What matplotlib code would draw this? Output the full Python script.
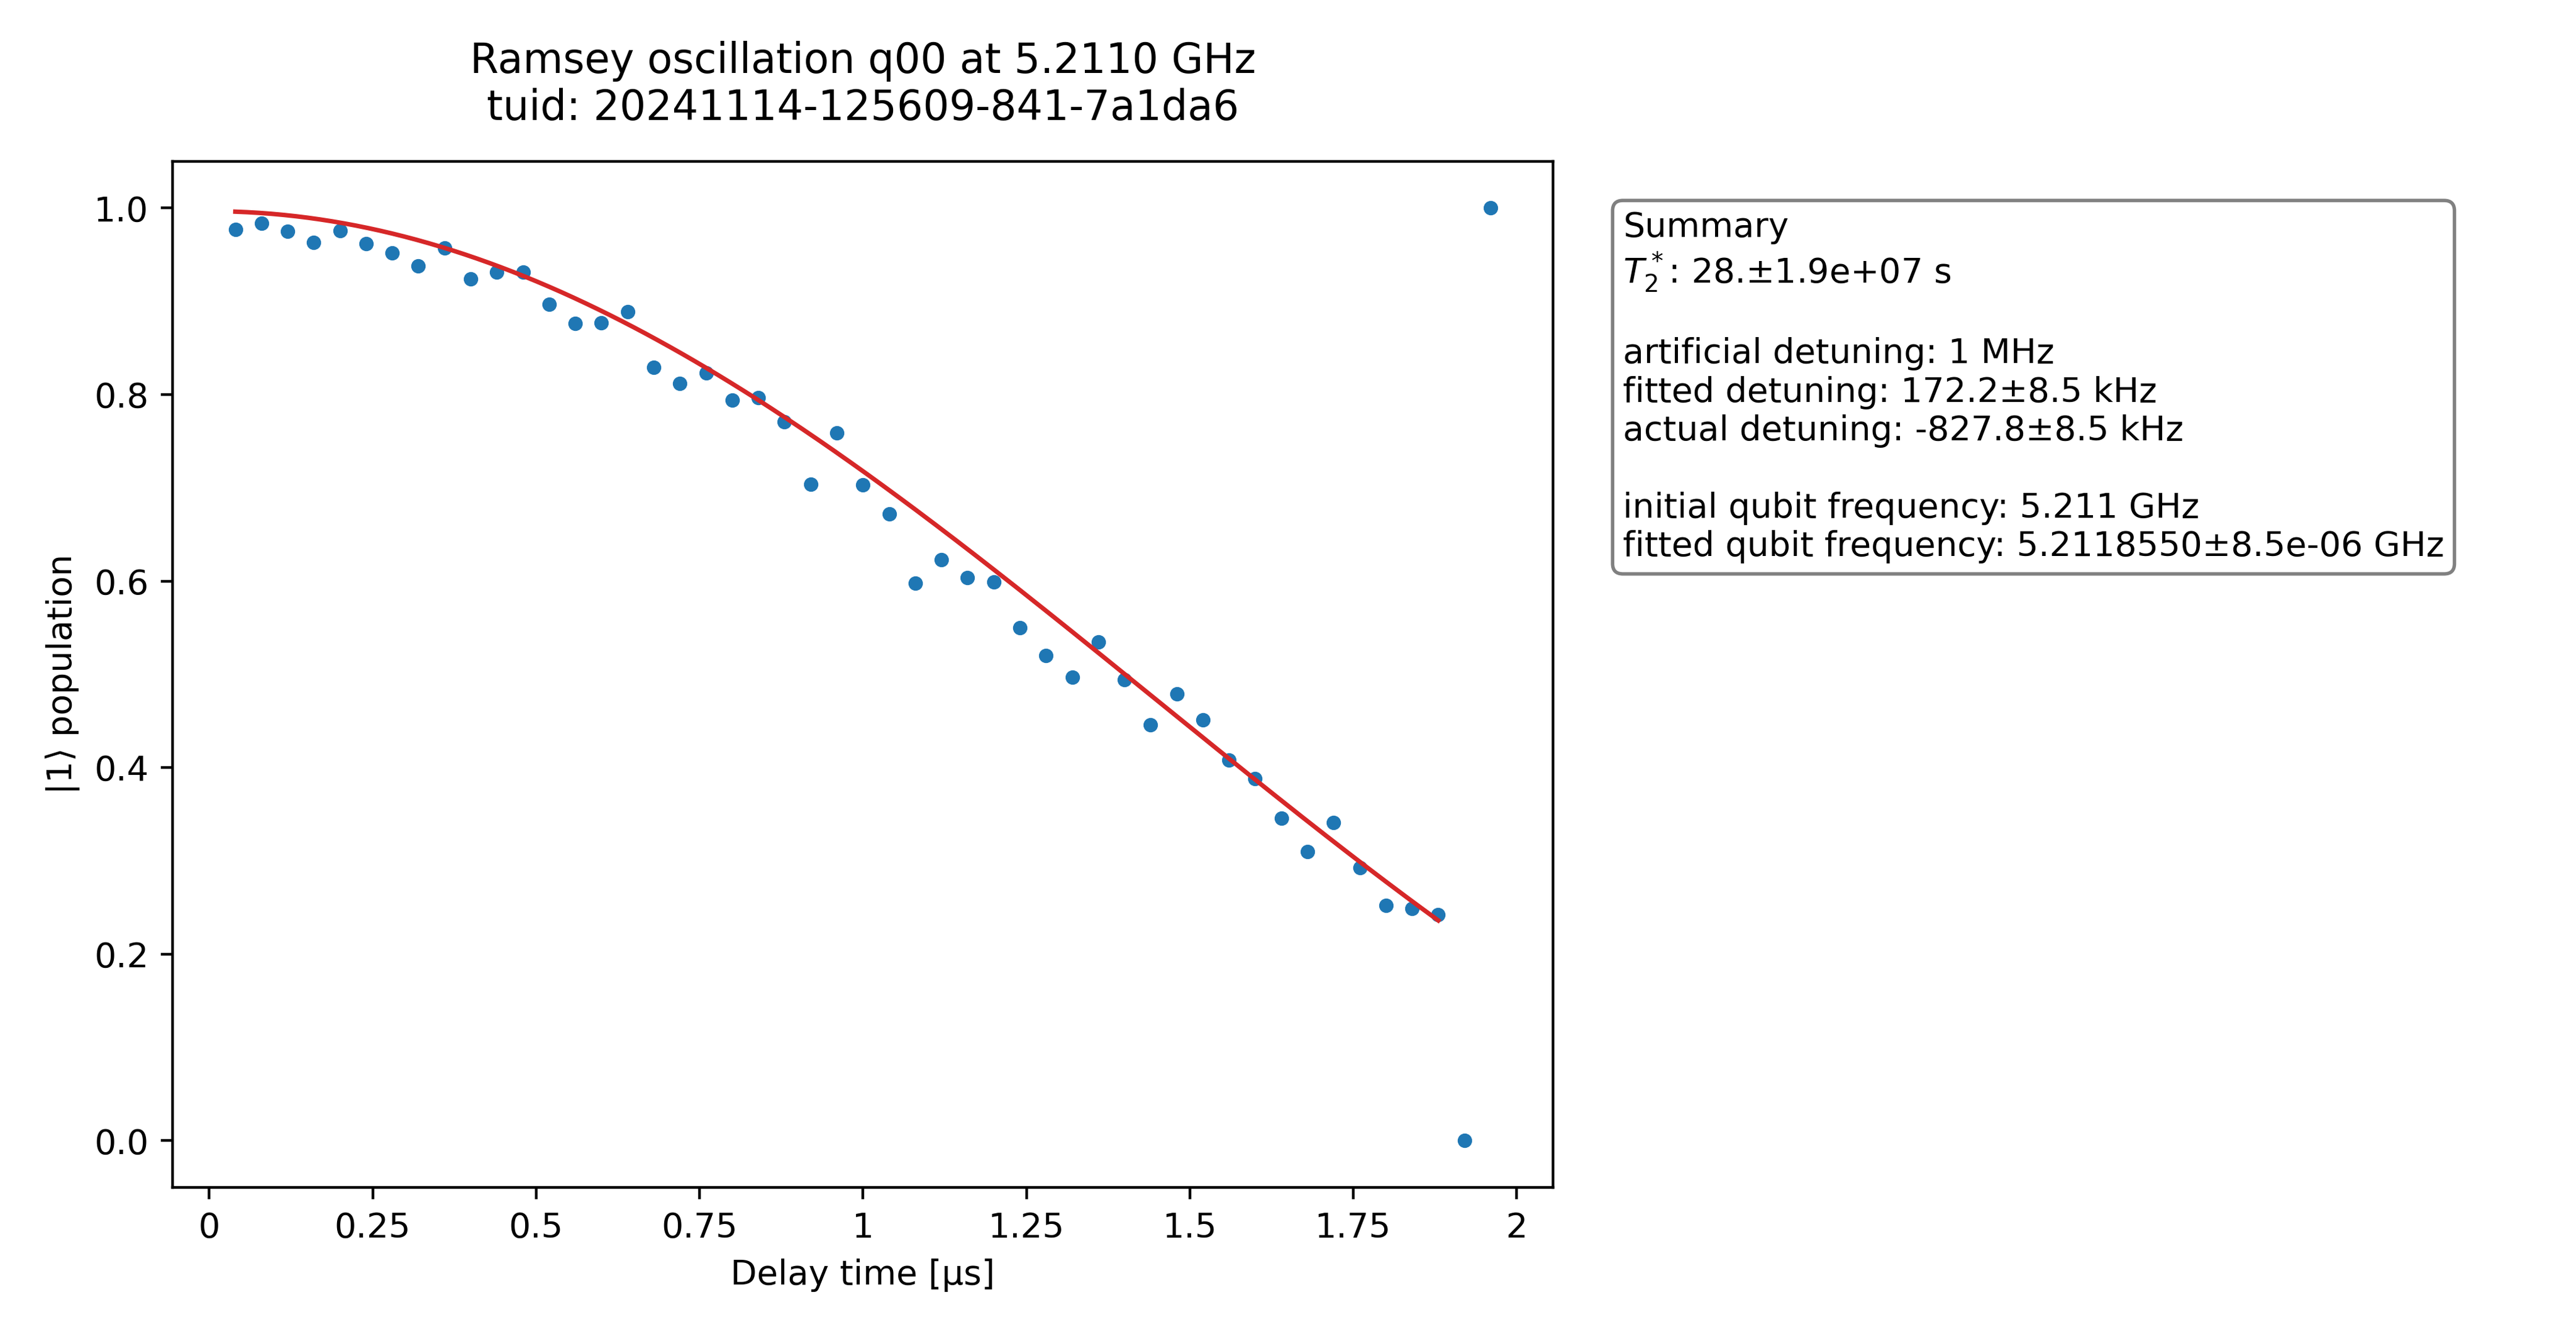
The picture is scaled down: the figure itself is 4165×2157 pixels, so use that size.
import numpy as np
import matplotlib
matplotlib.use("Agg")
import matplotlib.pyplot as plt

delay_us = [0.04*i for i in range(1, 50)]
population = [0.977,0.984,0.975,0.963,0.976,0.962,0.952,0.938,0.957,0.924,
              0.931,0.931,0.897,0.876,0.877,0.889,0.829,0.812,0.823,0.794,
              0.797,0.771,0.704,0.759,0.703,0.672,0.598,0.623,0.604,0.599,
              0.550,0.520,0.497,0.535,0.494,0.446,0.479,0.451,0.408,0.388,
              0.346,0.310,0.341,0.293,0.252,0.249,0.242,0.0,1.0]
# fitted model parameters (cosine Ramsey fit)
fit_amp = 0.5256
fit_freq_MHz = 0.1722
fit_offset = 0.471
fit_range = (0.04, 1.88)

fig = plt.figure(figsize=(10.4125, 5.3925), dpi=400)
ax = fig.add_axes([0.067, 0.110, 0.536, 0.769])
ax.plot(delay_us, population, 'o', color='#1f77b4', markersize=3.2)
t = np.linspace(fit_range[0], fit_range[1], 300)
ax.plot(t, fit_amp*np.cos(2*np.pi*fit_freq_MHz*t) + fit_offset, color='#d62728', lw=1.3)
ax.set_xticks([0, 0.25, 0.5, 0.75, 1, 1.25, 1.5, 1.75, 2])
ax.set_xticklabels(["0", "0.25", "0.5", "0.75", "1", "1.25", "1.5", "1.75", "2"])
ax.set_xlabel("Delay time [µs]")
ax.set_ylabel("|1⟩ population")
ax.set_title("Ramsey oscillation q00 at 5.2110 GHz\ntuid: 20241114-125609-841-7a1da6", fontsize=12, pad=12)

txt = ("Summary\n$T_2^*$: 28.±1.9e+07 s\n\nartificial detuning: 1 MHz\n"
       "fitted detuning: 172.2±8.5 kHz\nactual detuning: -827.8±8.5 kHz\n\n"
       "initial qubit frequency: 5.211 GHz\n"
       "fitted qubit frequency: 5.2118550±8.5e-06 GHz")
fig.text(0.630, 0.842, txt, va='top', ha='left', fontsize=10,
         bbox=dict(boxstyle='round', facecolor='white', edgecolor='gray', alpha=1.0))
fig.savefig("out.png", dpi=400)
